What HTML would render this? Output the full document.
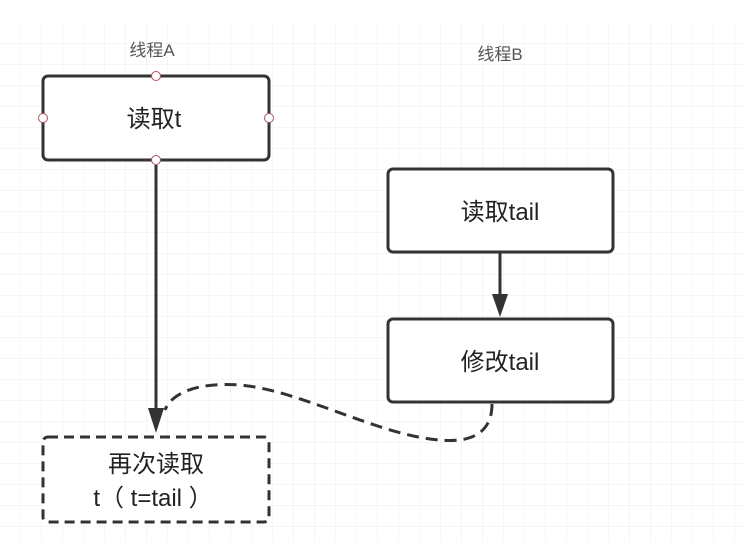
<!DOCTYPE html>
<html><head><meta charset="utf-8"><style>
body{margin:0;width:745px;height:541px;overflow:hidden;background:#fff}
</style></head><body>
<svg width="745" height="541" xmlns="http://www.w3.org/2000/svg">
<defs>
<pattern id="g" width="21" height="21" patternUnits="userSpaceOnUse" x="0" y="2">
<path d="M21 0V21M0 21H21" stroke="#ececec" stroke-width="1" fill="none"/>
</pattern>
</defs>
<rect x="0" y="23" width="745" height="518" fill="url(#g)"/>
<g font-family="Liberation Sans, Noto Sans CJK SC, sans-serif" fill="#222" text-anchor="middle">
<text x="152" y="56" font-size="17" fill="#555">线程A</text>
<text x="500" y="60" font-size="17" fill="#555">线程B</text>
<rect x="43" y="76" width="226" height="84" rx="5" fill="#fff" stroke="#333" stroke-width="3"/>
<text x="154" y="127" font-size="24">读取t</text>
<circle cx="156" cy="76" r="4.5" fill="#fff" stroke="#b05060"/>
<circle cx="156" cy="160" r="4.5" fill="#fff" stroke="#b05060"/>
<circle cx="43" cy="118" r="4.5" fill="#fff" stroke="#b05060"/>
<circle cx="269" cy="118" r="4.5" fill="#fff" stroke="#b05060"/>
<rect x="388" y="169" width="225" height="83" rx="5" fill="#fff" stroke="#333" stroke-width="3"/>
<text x="500" y="220" font-size="24">读取tail</text>
<rect x="388" y="319" width="225" height="83" rx="5" fill="#fff" stroke="#333" stroke-width="3"/>
<text x="500" y="370" font-size="24">修改tail</text>
<rect x="43" y="437" width="226" height="85" rx="5" fill="#fff" stroke="#333" stroke-width="3" stroke-dasharray="10,6"/>
<text x="156" y="472" font-size="24">再次读取</text>
<text x="153" y="506" font-size="24">t（ t=tail ）</text>
<line x1="156" y1="165" x2="156" y2="410" stroke="#333" stroke-width="3"/>
<polygon points="148,408 164,408 156,433" fill="#333"/>
<line x1="500" y1="252" x2="500" y2="296" stroke="#333" stroke-width="3"/>
<polygon points="492,294 508,294 500,317" fill="#333"/>
<path d="M492 404 C492 440 460 442 440 440 C380 436 300 390 240 385 C200 382 172 392 165 410" fill="none" stroke="#333" stroke-width="3" stroke-dasharray="12,7"/>
</g>
</svg>
</body></html>
